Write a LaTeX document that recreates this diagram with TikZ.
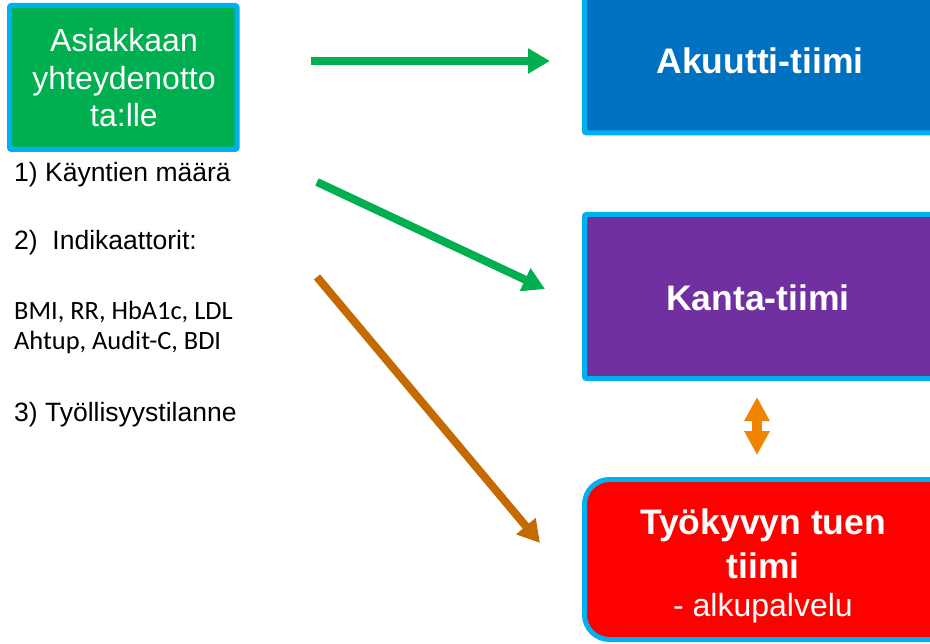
\documentclass[tikz,border=0pt]{standalone}
\usepackage{fontspec}
\setmainfont{Liberation Sans}
\newfontfamily\carlito{Carlito}
\usetikzlibrary{arrows.meta}
\definecolor{cyanb}{RGB}{0,176,240}
\definecolor{grn}{RGB}{0,176,80}
\definecolor{blu}{RGB}{0,112,192}
\definecolor{pur}{RGB}{112,48,160}
\definecolor{rd}{RGB}{255,0,0}
\definecolor{brn}{RGB}{197,106,0}
\definecolor{org}{RGB}{240,132,0}
\begin{document}
\begin{tikzpicture}[x=1bp,y=-1bp,
  boxline/.style={draw=cyanb, line width=5bp},
  wtxt/.style={text=white, inner sep=0pt, anchor=base},
  reg/.style={wtxt, font=\fontsize{32bp}{38bp}\selectfont},
  bld/.style={wtxt, font=\fontsize{35.5bp}{42bp}\selectfont\bfseries},
  ltxt/.style={inner sep=0pt, anchor=base west, font=\fontsize{26.5bp}{30bp}\selectfont},
  ctxt/.style={inner sep=0pt, anchor=base west, font=\fontsize{26.4bp}{30bp}\selectfont\carlito},
  garrow/.style={draw=grn, line width=8bp, -{Triangle[length=22bp,width=24bp]}},
  barrow/.style={draw=brn, line width=8bp, -{Triangle[length=22bp,width=24bp]}},
  dblarrow/.style={draw=org, line width=10bp, {Triangle[length=24bp,width=24bp]}-{Triangle[length=24bp,width=24bp]}}
]
\clip (0,0) rectangle (930,644);
\fill[white] (0,0) rectangle (930,644);

% green box
\draw[boxline, fill=grn, rounded corners=2bp] (9.5,5.5) rectangle (237,149.5);
\node[reg] (g1) at (124,52) {Asiakkaan};
\node[reg] (g2) at (124,89.5) {yhteydenotto};
\node[reg] (g3) at (124,127) {ta:lle};

% left list
\node[ltxt] (l1) at (14,181.7) {1) Käyntien määrä};
\node[ltxt] (l2) at (14,250) {2)\ \ Indikaattorit:};
\node[ctxt] (l3) at (14,319.5) {BMI, RR, HbA1c, LDL};
\node[ctxt] (l4) at (14,349) {Ahtup, Audit-C, BDI};
\node[ltxt] (l5) at (14,421.7) {3) Työllisyystilanne};

% blue box
\draw[boxline, fill=blu, rounded corners=2bp] (584.5,-20) rectangle (960,133);
\node[bld] (akuutti) at (760,74) {Akuutti-tiimi};

% purple box
\draw[boxline, fill=pur, rounded corners=2bp] (584.5,214.5) rectangle (960,378.5);
\node[bld] (kanta) at (758,310) {Kanta-tiimi};

% red box
\draw[boxline, fill=rd, rounded corners=25bp] (584.5,479.5) rectangle (980,639.5);
\node[bld] (r1) at (763,534) {Työkyvyn tuen};
\node[bld] (r2) at (763,578) {tiimi};
\node[reg] (r3) at (763,616) {- alkupalvelu};

% arrows
\coordinate (a1s) at (311,61);
\coordinate (a1e) at (550,61);
\coordinate (a2s) at (317,182);
\coordinate (a2e) at (545,289);
\coordinate (a3s) at (317,277);
\coordinate (a3e) at (540,543);
\coordinate (d1) at (757,397);
\coordinate (d2) at (757,455);
\draw[garrow] (a1s) -- (a1e);
\draw[garrow] (a2s) -- (a2e);
\draw[barrow] (a3s) -- (a3e);
\draw[dblarrow] (d1) -- (d2);
\end{tikzpicture}
\end{document}
